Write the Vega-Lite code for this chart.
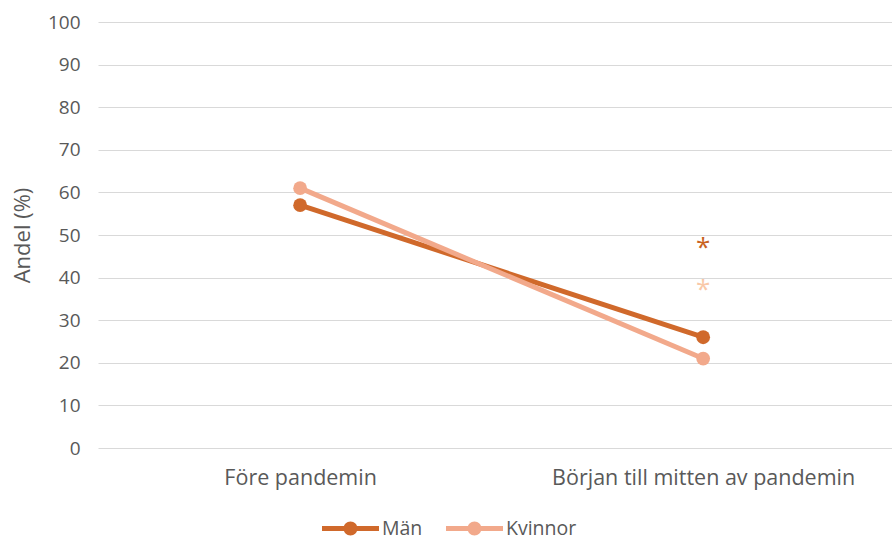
{
  "$schema": "https://vega.github.io/schema/vega-lite/v6.json",
  "width": 794,
  "height": 426,
  "autosize": "none",
  "padding": {"left": 98, "top": 22, "right": 0, "bottom": 93},
  "background": "white",
  "config": {
    "view": {"stroke": null},
    "font": "Open Sans",
    "axis": {"labelColor": "#595959", "titleColor": "#595959", "labelFont": "Open Sans", "titleFont": "Open Sans"},
    "legend": {"labelFont": "Open Sans"}
  },
  "datasets": {
    "lines": [
      {"period": "Före pandemin", "group": "Män", "value": 57},
      {"period": "Början till mitten av pandemin", "group": "Män", "value": 26},
      {"period": "Före pandemin", "group": "Kvinnor", "value": 61},
      {"period": "Början till mitten av pandemin", "group": "Kvinnor", "value": 21}
    ],
    "stars": [
      {"period": "Början till mitten av pandemin", "group": "Män", "value": 48, "label": "*"},
      {"period": "Början till mitten av pandemin", "group": "Kvinnor", "value": 38, "label": "*"}
    ]
  },
  "encoding": {
    "x": {
      "field": "period",
      "type": "nominal",
      "sort": ["Före pandemin", "Början till mitten av pandemin"],
      "scale": {"type": "point", "padding": 0.485, "align": 0.517},
      "axis": {"title": null, "labelAngle": 0, "labelFontSize": 21.5, "labelPadding": 19, "labelLimit": 500, "ticks": false, "domain": false, "grid": false}
    },
    "y": {
      "field": "value",
      "type": "quantitative",
      "scale": {"domain": [0, 100]},
      "axis": {"title": "Andel (%)", "titleFontSize": 22, "titleFontWeight": "normal", "titlePadding": 13, "labelFontSize": 19, "labelPadding": 18, "labelOverlap": false, "values": [0,10,20,30,40,50,60,70,80,90,100], "ticks": false, "domain": false, "gridColor": "#d9d9d9", "gridWidth": 1}
    }
  },
  "layer": [
    {
      "data": {"name": "lines"},
      "mark": {"type": "line", "strokeWidth": 5, "point": {"size": 190, "filled": true, "opacity": 1}},
      "encoding": {
        "color": {
          "field": "group",
          "type": "nominal",
          "sort": ["Män", "Kvinnor"],
          "scale": {"domain": ["Män", "Kvinnor"], "range": ["#D0692B", "#F2A98B"]},
          "legend": {
            "title": null,
            "orient": "none",
            "legendX": 224,
            "legendY": 478,
            "direction": "horizontal",
            "symbolType": "M-1,-0.088 L1,-0.088 L1,0.088 L-1,0.088 Z M-0.245,0 A0.245,0.245 0 1,1 0.245,0 A0.245,0.245 0 1,1 -0.245,0 Z",
            "symbolSize": 3249,
            "symbolStrokeWidth": 0,
            "labelFontSize": 19.5,
            "labelColor": "#595959",
            "labelOffset": 3,
            "columnPadding": 23
          }
        }
      }
    },
    {
      "data": {"name": "stars"},
      "mark": {"type": "text", "fontSize": 26, "fontWeight": "normal", "baseline": "middle", "dy": 4},
      "encoding": {
        "text": {"field": "label"},
        "color": {
          "field": "group",
          "type": "nominal",
          "scale": {"domain": ["Män", "Kvinnor"], "range": ["#C9621F", "#F9C8A8"]},
          "legend": null
        }
      }
    }
  ],
  "resolve": {"scale": {"color": "independent"}}
}
